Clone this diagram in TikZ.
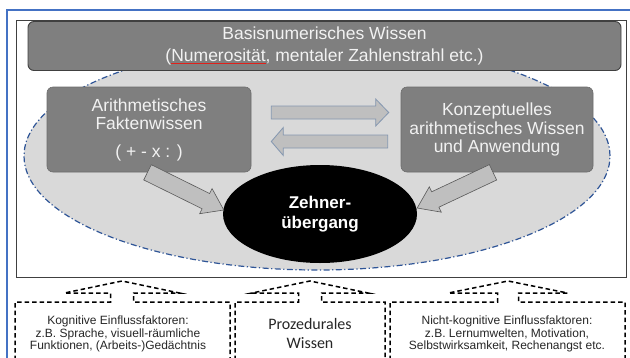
\documentclass[tikz,border=0pt]{standalone}
\usepackage{fontspec}
\setmainfont{Liberation Sans}
\newfontfamily\calibri{Carlito}
\usetikzlibrary{calc,shapes.geometric}
\definecolor{FrameBlue}{HTML}{4472C4}
\definecolor{DashBlue}{HTML}{2F5597}
\definecolor{BoxGray}{HTML}{7F7F7F}
\definecolor{BoxLine}{HTML}{404040}
\definecolor{FieldGray}{HTML}{D9D9D9}
\definecolor{ArrowGray}{HTML}{BFBFBF}
\definecolor{ArrowLine}{HTML}{8497B0}
\definecolor{TextWhite}{HTML}{F2F2F2}
\definecolor{SpellRed}{HTML}{E0201A}

% rote Linie der Rechtschreibpruefung
\newcommand\fehler[1]{\setbox0=\hbox{#1}\rlap{\color{SpellRed}\rule[-2.5pt]{\wd0}{0.9pt}}\box0}

% Blockpfeil: #1 Stil, #2 von, #3 nach, #4 halbe Schaftbreite, #5 halbe Kopfbreite, #6 Kopflaenge
\newcommand\blockpfeil[6]{%
    \coordinate (kb) at ($(#3)!#6!(#2)$);
    \draw[#1] ($(#2)!#4!90:(#3)$) -- ($(kb)!#4!-90:(#2)$) -- ($(kb)!#5!-90:(#2)$) -- (#3)
        -- ($(kb)!#5!90:(#2)$) -- ($(kb)!#4!90:(#2)$) -- ($(#2)!#4!-90:(#3)$) -- cycle;
}

\begin{document}
\begin{tikzpicture}[
    x=1pt, y=-1pt,
    font=\fontsize{17.5}{18.5}\selectfont,
    % Kaesten im Feld
    kasten/.style={rectangle, rounded corners=6pt, fill=BoxGray, draw=BoxGray!85!black,
        line width=0.6pt, text=TextWhite, align=center, inner sep=0pt},
    % Pfeile zwischen den Kaesten
    querpfeil/.style={fill=ArrowGray, draw=ArrowLine, line width=0.8pt},
    schraegpfeil/.style={fill=ArrowGray, draw=black!65, line width=0.6pt},
    % gestrichelte Kaesten unten
    einfluss/.style={black, line width=1.5pt, dash pattern=on 4.5pt off 3pt},
    einflusstext/.style={align=center, inner sep=0pt,
        font=\fontsize{12}{12.8}\selectfont, text=black!85}
]

    \useasboundingbox (0,0) rectangle (630,357);
    \clip (0,0) rectangle (630,357);

    % --- 1. Rahmen ---
    \draw[FrameBlue, line width=1.2pt] (7,370) -- (7,10) -- (640,10);
    \draw[black!75, line width=0.9pt] (16,20) rectangle (626,277);

    % --- 2. Hellgraues Feld ---
    \node[ellipse, fill=FieldGray, draw=DashBlue, line width=1.2pt,
        dash pattern=on 6pt off 2.5pt on 1.2pt off 2.5pt,
        minimum width=586pt, minimum height=228pt, inner sep=0pt] (feld) at (317,156) {};

    % --- 3. Basiswissen ---
    \node[kasten, draw=BoxLine, line width=0.9pt, minimum width=593pt, minimum height=49pt,
        font=\fontsize{17.5}{22}\selectfont] (basis) at (324.5,46)
        {Basisnumerisches Wissen\\(\fehler{Numerosität}, mentaler Zahlenstrahl etc.)};

    % --- 4. Kaesten links und rechts ---
    \node[kasten, minimum width=204pt, minimum height=85pt] (arith) at (149,129.5)
        {Arithmetisches\\Faktenwissen\\[9pt]( + - x : )};
    \node[kasten, minimum width=192pt, minimum height=85pt] (konzept) at (497,129.5)
        {Konzeptuelles\\arithmetisches Wissen\\und Anwendung};

    % --- 5. Zehneruebergang ---
    \node[ellipse, fill=black, text=white, align=center, inner sep=0pt,
        minimum width=194pt, minimum height=98pt,
        font=\fontsize{17}{20}\selectfont\bfseries] (zehner) at (320,214) {Zehner-\\übergang};

    % --- 6. Pfeile ---
    \coordinate (r1) at ($(arith.east)+(20,-17)$);
    \coordinate (r2) at ($(konzept.west)+(-12,-17)$);
    \coordinate (l1) at ($(konzept.west)+(-13,12)$);
    \coordinate (l2) at ($(arith.east)+(20,12)$);
    \blockpfeil{querpfeil}{r1}{r2}{6.5pt}{13.5pt}{13pt}
    \blockpfeil{querpfeil}{l1}{l2}{6.5pt}{14pt}{12pt}

    \coordinate (d1) at ($(arith.south)+(-1.5,0)$);
    \coordinate (d1e) at ($(zehner.west)+(1,-4)$);
    \coordinate (d2) at ($(konzept.south)+(-4,0)$);
    \coordinate (d2e) at ($(zehner.east)+(0,-6)$);
    \blockpfeil{schraegpfeil}{d1}{d1e}{8.5pt}{14pt}{20pt}
    \blockpfeil{schraegpfeil}{d2}{d2e}{8.5pt}{14pt}{20pt}

    % --- 7. Einflussfaktoren unten ---
    \foreach \l/\r/\ax/\sh/\hh in {15/230/122/11.5/57.5, 235/385/310/11.5/58, 390/625/508/10.5/59.5} {
        \draw[einfluss] (\l,375) -- (\l,302) -- (\ax-\sh,302) -- (\ax-\sh,293) -- (\ax-\hh,293)
            -- (\ax,281) -- (\ax+\hh,293) -- (\ax+\sh,293) -- (\ax+\sh,302) -- (\r,302) -- (\r,375);
    }
    \node[einflusstext] (kognitiv) at (118,334)
        {Kognitive Einflussfaktoren:\\z.B. Sprache, visuell-räumliche\\Funktionen, (Arbeits-)Gedächtnis};
    \node[einflusstext, font=\calibri\fontsize{16}{19}\selectfont] (prozedural) at (310,333)
        {Prozedurales\\Wissen};
    \node[einflusstext] (nichtkognitiv) at (507,334)
        {Nicht-kognitive Einflussfaktoren:\\z.B. Lernumwelten, Motivation,\\Selbstwirksamkeit, Rechenangst etc.};

\end{tikzpicture}
\end{document}
